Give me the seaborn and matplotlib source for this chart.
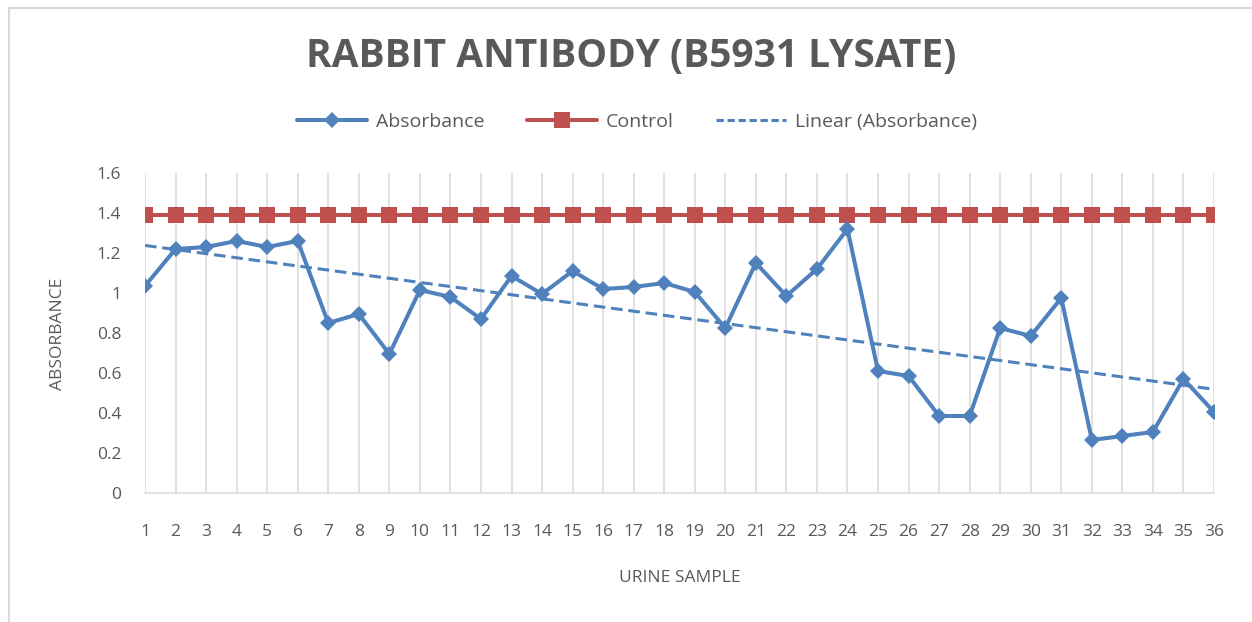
import numpy as np
import pandas as pd
import matplotlib
matplotlib.use("Agg")
import matplotlib.pyplot as plt
import seaborn as sns
from matplotlib.lines import Line2D
from matplotlib.patches import Rectangle

# Data
samples = list(range(1, 37))
absorbance = [1.035, 1.22, 1.23, 1.26, 1.23, 1.26, 0.85, 0.895, 0.695, 1.015,
              0.98, 0.87, 1.085, 0.995, 1.11, 1.02, 1.03, 1.05, 1.005, 0.825,
              1.15, 0.985, 1.12, 1.32, 0.61, 0.585, 0.385, 0.385, 0.825, 0.785,
              0.975, 0.265, 0.285, 0.305, 0.57, 0.405]
control = [1.39] * 36
y_ticks = [0, 0.2, 0.4, 0.6, 0.8, 1, 1.2, 1.4, 1.6]
y_tick_labels = ["0", "0.2", "0.4", "0.6", "0.8", "1", "1.2", "1.4", "1.6"]

df = pd.DataFrame({"sample": samples, "Absorbance": absorbance, "Control": control})

BLUE = "#4f81bd"
RED = "#c0504d"
GREY = "#595959"
GRID = "#d9d9d9"

sns.set_style("white")
plt.rcParams["font.family"] = ["Open Sans", "DejaVu Sans"]

fig = plt.figure(figsize=(12.52, 6.22), dpi=100)
ax = fig.add_axes([145 / 1252, 1 - 493 / 622, (1214 - 145) / 1252, 320 / 622])

# vertical gridlines at each sample
ax.set_xticks(samples)
ax.xaxis.grid(True, color=GRID, linewidth=1.1)
ax.set_axisbelow(True)

sns.regplot(data=df, x="sample", y="Absorbance", ax=ax, scatter=False, ci=None,
            line_kws=dict(color=BLUE, linewidth=2.2, linestyle=(0, (3.8, 1.9))))
sns.lineplot(data=df, x="sample", y="Control", ax=ax, color=RED, linewidth=2.9,
             marker="s", markersize=12, markeredgewidth=0, zorder=3)
sns.lineplot(data=df, x="sample", y="Absorbance", ax=ax, color=BLUE, linewidth=2.9,
             marker="D", markersize=8.5, markeredgewidth=0, zorder=4)

ax.set_xlim(1, 36)
ax.set_ylim(0, 1.6)
ax.set_yticks(y_ticks)
ax.set_yticklabels(y_tick_labels)
ax.set_xticklabels([str(s) for s in samples])
ax.tick_params(axis="y", length=0, pad=17, labelsize=12.5, labelcolor=GREY)
ax.tick_params(axis="x", length=0, pad=22, labelsize=12.5, labelcolor=GREY)
for side in ["left", "right", "top"]:
    ax.spines[side].set_visible(False)
ax.spines["bottom"].set_color(GRID)
ax.spines["bottom"].set_linewidth(1.1)
ax.set_xlabel("")
ax.set_ylabel("")

fig.text(58 / 1252, 1 - 334 / 622, "ABSORBANCE", rotation=90, ha="center", va="center",
         fontsize=12.5, color=GREY)
fig.text(680 / 1252, 1 - 578 / 622, "URINE SAMPLE", ha="center", va="center",
         fontsize=12.5, color=GREY)
fig.text(631 / 1252, 1 - 57 / 622, "RABBIT ANTIBODY (B5931 LYSATE)", ha="center",
         va="center", fontsize=28, fontweight="bold", color=GREY)

handles = [
    Line2D([], [], color=BLUE, linewidth=2.9, marker="D", markersize=8.5, markeredgewidth=0),
    Line2D([], [], color=RED, linewidth=2.9, marker="s", markersize=12, markeredgewidth=0),
    Line2D([], [], color=BLUE, linewidth=2.2, linestyle=(0, (2.4, 1.2))),
]
fig.legend(handles, ["Absorbance", "Control", "Linear (Absorbance)"], loc="center",
           bbox_to_anchor=(637 / 1252, 1 - 122 / 622), ncol=3, frameon=False,
           fontsize=14, labelcolor=GREY, handlelength=3.6, handletextpad=0.45,
           columnspacing=2.2)

# chart border (only the left and top edges fall inside the picture)
fig.patches.append(Rectangle((9 / 1252, -0.1), 1.2, 1.1 - 8 / 622, transform=fig.transFigure,
                             fill=False, edgecolor=GRID, linewidth=1.5))

fig.savefig("out.png", dpi=100)
